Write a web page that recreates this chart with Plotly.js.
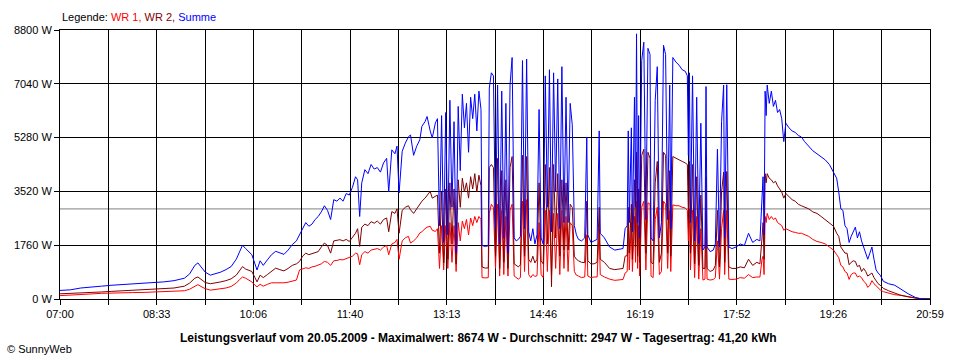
<!DOCTYPE html>
<html>
<head>
<meta charset="utf-8">
<script src="https://cdn.plot.ly/plotly-3.0.1.min.js"></script>
<style>
html,body{margin:0;padding:0;background:#fff;}
#chart{width:960px;height:360px;}
</style>
</head>
<body>
<div id="chart"></div>
<script>
// ---- data ----
const times = [
"07:00","07:10","07:20","07:30","07:40","07:50","08:00","08:10","08:20","08:30",
"08:40","08:50","09:00","09:05","09:10","09:13","09:17","09:20","09:25","09:30",
"09:35","09:40","09:45","09:50","09:53","09:56","09:59","10:02","10:05","10:08",
"10:10","10:13","10:16",
"10:20","10:24","10:28","10:32","10:36","10:40","10:44","10:48","10:51","10:54",
"10:57","11:00","11:03","11:06","11:09","11:12","11:15","11:18","11:21","11:24",
"11:27","11:30","11:33","11:36","11:39","11:42","11:45","11:47","11:49","11:51",
"11:54","11:57","12:00","12:03","12:06","12:09","12:12","12:15","12:17","12:20",
"12:23","12:25","12:27","12:30","12:33","12:36","12:38","12:41","12:44","12:47",
"12:49","12:52","12:54","12:57","12:59","13:02",
"13:04","13:06","13:08","13:10","13:12","13:14","13:16","13:18","13:20","13:22",
"13:24","13:26","13:28","13:30","13:32","13:34","13:36","13:38","13:40","13:42",
"13:44","13:46","13:47","13:50","13:53","13:54","13:56","13:58","14:00","14:02",
"14:04","14:06","14:08","14:10","14:12","14:14","14:16","14:18","14:20","14:22",
"14:24","14:26","14:28","14:30","14:32","14:34","14:36","14:38","14:40","14:42",
"14:44","14:46","14:48","14:50","14:52","14:54","14:56","14:58","15:00","15:02",
"15:04","15:06","15:08","15:10","15:12","15:14","15:16","15:18","15:20","15:23",
"15:26","15:28","15:29","15:32","15:35","15:38","15:40","15:41","15:45","15:50",
"15:55","16:00","16:03","16:05","16:07","16:08","16:09","16:11","16:12","16:14",
"16:15","16:16","16:17","16:18","16:19","16:21","16:23","16:25","16:27","16:29",
"16:30","16:32","16:34","16:36","16:38","16:40","16:42","16:44","16:46","16:48",
"16:49","16:51","16:54","16:57","17:00","17:03","17:05","17:06","17:07","17:08",
"17:10","17:12","17:14","17:16","17:18","17:20","17:22","17:23","17:24","17:27",
"17:30","17:32","17:34","17:36","17:38","17:40","17:41","17:43","17:45","17:48",
"17:52","17:56","18:00","18:04","18:08","18:12","18:15","18:17","18:18","18:19",
"18:20","18:21","18:22","18:24","18:26","18:28","18:30","18:32","18:34","18:36",
"18:38","18:40","18:43","18:46","18:49","18:52","18:55","18:58","19:02","19:06",
"19:10","19:14","19:18","19:22","19:26","19:29","19:31","19:33","19:35","19:37",
"19:39","19:41","19:43","19:45","19:47","19:49","19:51","19:53","19:55","19:57",
"19:59","20:01","20:03","20:05","20:07","20:09","20:11","20:14","20:19","20:25",
"20:31","20:38","20:45","20:50","20:59"
];

const summe = [
280,300,360,380,420,450,470,490,510,530,
560,600,680,820,1100,1180,1000,880,780,820,
880,960,1060,1300,1550,1760,1650,1560,1450,1150,
950,1250,1100,
1280,1450,1560,1500,1460,1600,1780,1900,2100,2350,
2500,2380,2450,2600,2700,2850,3050,2900,2600,3250,
3200,3300,3200,3450,3400,3650,4000,3900,2700,3800,
4230,4100,4400,4250,4300,4150,4450,4600,3500,4880,
4750,5000,3470,4830,5100,5300,5370,4700,5000,5210,
5650,5800,5970,5500,5270,5760,
5900,2400,6000,1850,6100,2100,6500,3000,5800,1500,
6300,4200,6700,5600,6400,4800,6600,5900,6700,5500,
6800,6200,1750,1720,1740,6900,7400,7300,2300,7000,
1800,6800,2000,6400,1500,7000,7900,2000,1900,1950,
2050,7800,2300,7850,2200,1900,2300,1800,2100,6200,
2000,1800,7300,3000,7500,2200,7400,3500,7200,2300,
7600,2500,6600,2500,6400,5700,2400,2100,1950,1900,
2000,5300,2100,1850,1900,1950,5500,2150,2000,1700,
1600,1620,1650,2300,2400,5500,2500,5600,2200,6600,
3000,8674,2500,6000,2000,7800,8400,2600,8200,8000,
2000,1900,6500,7600,2000,2500,8300,8000,2600,7000,
2300,7900,7750,7650,7500,7450,7300,4700,7400,2500,
7300,1900,6600,1800,5750,1600,1700,6950,1700,1550,
1600,1800,4900,1700,5800,7000,2000,7010,1700,1650,
1700,1800,1750,2150,1850,1950,1900,3300,4000,2100,
6800,6000,7000,6400,6800,6300,6500,6100,6200,5900,
5150,5750,5600,5500,5450,5350,5300,5150,5000,4850,
4750,4650,4550,4400,4150,3950,3500,2950,2900,2400,
2300,1850,2050,2200,2350,2000,2200,1900,1720,1500,
1300,1500,1700,1300,950,850,780,580,500,450,
320,170,50,10,0
];

const wr2 = [
170,180,200,215,230,250,265,280,300,310,
330,360,420,520,680,720,620,540,500,520,
560,600,660,780,920,1060,980,940,900,700,
560,780,700,
800,900,1010,960,920,1000,1100,1150,1230,1400,
1500,1450,1480,1520,1550,1700,1830,1750,1500,1900,
1920,1940,1900,1950,1880,2000,2150,2300,1720,2350,
2450,2400,2530,2480,2550,2450,2600,2650,2200,2860,
2800,2950,2150,2900,3000,3050,2920,2800,2950,3140,
3200,3300,3400,3520,3300,3360,
3400,1500,3500,1180,3600,1300,3800,1800,3600,1150,
3900,3000,3950,3500,3800,3300,4000,3600,4100,3500,
4050,3700,1050,1010,1020,4300,4400,4300,1400,4600,
1000,4200,1200,3900,1000,4300,4660,1150,1100,1050,
1120,4700,1400,4660,1300,1200,1400,1180,1300,3800,
1250,1150,4400,1800,4300,400,4400,2000,4100,1400,
3900,1600,3800,1600,3100,3000,1400,1300,1250,1200,
1190,3200,1250,1150,1150,1200,3000,1300,1200,1000,
960,980,1000,1400,1420,3000,1500,3100,1300,3900,
1700,4800,1400,3600,1200,4700,4900,1500,4800,4600,
1200,1150,3800,4500,1200,1500,4800,4700,1500,4200,
1400,4660,4600,4550,4500,4450,4400,2800,4500,1500,
4400,1150,4000,1100,3400,1000,1000,4000,1000,900,
950,1100,2900,1050,3500,4150,1200,4170,1050,1000,
1000,1050,1020,1300,1100,1200,1150,2000,2500,1300,
4100,3800,4100,3950,3900,3800,3850,3700,3600,3500,
3300,3450,3350,3250,3200,3100,3050,3000,2950,2850,
2800,2700,2600,2480,2380,2150,2050,1700,1600,1500,
1500,1120,1200,1250,1230,1060,1100,900,1000,900,
750,800,850,700,580,500,450,350,270,200,
120,70,30,5,0
];

const wr1 = [
110,120,150,165,185,200,205,210,215,225,
240,250,270,320,430,470,390,340,290,310,
330,360,410,520,630,720,680,630,560,450,
400,480,420,
480,530,530,520,530,550,580,620,950,980,
1020,1000,1050,1070,1100,1150,1230,1200,1100,1250,
1260,1290,1280,1320,1340,1400,1500,1480,1120,1450,
1550,1500,1600,1620,1650,1600,1700,1750,1450,1800,
1850,1950,1300,1900,2000,2050,1830,1900,2000,2160,
2200,2300,2350,2380,2250,2210,
2300,1000,2400,950,2400,1000,2500,1200,2400,900,
2500,1900,2550,2300,2600,2100,2650,2400,2700,2500,
2700,2600,700,690,700,2800,3100,3000,1000,3100,
750,2900,800,2700,750,2900,3100,750,700,650,
700,3200,900,3250,800,700,800,740,760,2500,
800,700,2900,900,2900,750,2800,1000,2800,800,
2900,1000,2700,900,2500,2400,900,780,750,700,
720,2100,750,700,720,720,2300,800,720,650,
610,620,640,850,900,2500,950,2500,900,2700,
1200,3200,1000,2400,750,3000,3200,950,3150,3100,
750,700,2600,3000,800,900,3200,3100,1000,2900,
900,3080,3050,3050,3000,2980,2900,1900,2950,950,
2900,700,2700,650,2300,620,650,2800,650,620,
640,700,1900,650,2300,2900,800,2900,650,640,
650,700,680,800,700,720,720,1300,1400,800,
2700,2500,2800,2600,2700,2600,2650,2500,2450,2400,
2250,2300,2250,2200,2180,2150,2150,2100,2050,1950,
1880,1850,1800,1700,1600,1450,1350,1100,1050,900,
850,640,800,850,850,720,750,700,580,520,
380,450,600,500,430,350,300,240,190,140,
120,70,20,5,0
];

const seriesNames = ["WR 1", "WR 2", "Summe"];
const avgPower = 2947;               // Durchschnitt
const yTicks = [0, 1760, 3520, 5280, 7040, 8800];
const yUnit = " W";
const xTickLabels = ["07:00","08:33","10:06","11:40","13:13","14:46","16:19","17:52","19:26","20:59"];
const titleText = "Leistungsverlauf vom 20.05.2009 - Maximalwert: 8674 W - Durchschnitt: 2947 W - Tagesertrag: 41,20 kWh";

// ---- build ----
function toMin(t){ const p = t.split(":"); return (+p[0])*60 + (+p[1]); }
const x = times.map(toMin);
const tStart = toMin(xTickLabels[0]), tEnd = toMin(xTickLabels[xTickLabels.length-1]);
const gridVals = [], gridText = [];
for (let k = 0; k <= 18; k++) {
  gridVals.push(tStart + k*(tEnd - tStart)/18);
  gridText.push(k % 2 === 0 ? xTickLabels[k/2] : "");
}
const yText = yTicks.map(v => v + yUnit);

const font = "Arial, 'Liberation Sans', sans-serif";
const traces = [
  {x: x, y: wr1, name: seriesNames[0], type: "scatter", mode: "lines", line: {color: "#ff0000", width: 1}},
  {x: x, y: wr2, name: seriesNames[1], type: "scatter", mode: "lines", line: {color: "#800000", width: 1}},
  {x: x, y: summe, name: seriesNames[2], type: "scatter", mode: "lines", line: {color: "#0000ff", width: 1}}
];

const layout = {
  width: 960, height: 360,
  margin: {l: 60, r: 30, t: 30, b: 61, pad: 0},
  paper_bgcolor: "#ffffff", plot_bgcolor: "#ffffff",
  showlegend: false,
  font: {family: font, size: 11, color: "#000"},
  xaxis: {
    type: "linear", range: [tStart, tEnd],
    tickmode: "array", tickvals: gridVals, ticktext: gridText,
    ticks: "outside", ticklen: 5, tickcolor: "#000", tickwidth: 1,
    showgrid: true, gridcolor: "#000", gridwidth: 1,
    showline: true, linecolor: "#000", linewidth: 1, mirror: true,
    zeroline: false, fixedrange: true,
    tickfont: {family: font, size: 11, color: "#000"}
  },
  yaxis: {
    range: [0, 8800],
    tickmode: "array", tickvals: yTicks, ticktext: yText,
    ticks: "outside", ticklen: 5, tickcolor: "#000", tickwidth: 1,
    showgrid: true, gridcolor: "#000", gridwidth: 1,
    showline: true, linecolor: "#000", linewidth: 1, mirror: true,
    zeroline: false, fixedrange: true,
    tickfont: {family: font, size: 11, color: "#000"}
  },
  shapes: [
    {type: "line", xref: "paper", yref: "y", x0: 0, x1: 1, y0: avgPower, y1: avgPower,
     line: {color: "#808080", width: 1}, layer: "below"}
  ],
  annotations: [
    {xref: "paper", yref: "paper", x: 0, y: 1.049, xanchor: "left", yanchor: "middle", showarrow: false,
     font: {family: font, size: 11, color: "#000"},
     text: "Legende: <span style='color:#ff0000'>WR 1,</span> <span style='color:#800000'>WR 2,</span> <span style='color:#0000ff'>Summe</span>"},
    {xref: "paper", yref: "paper", x: 0.4816, y: -0.144, xanchor: "center", yanchor: "middle", showarrow: false,
     font: {family: font, size: 12, color: "#000"},
     text: "<b>" + titleText + "</b>"},
    {xref: "paper", yref: "paper", x: -0.0632, y: -0.185, xanchor: "left", yanchor: "middle", showarrow: false,
     font: {family: font, size: 11, color: "#000"},
     text: "© SunnyWeb"}
  ]
};

Plotly.newPlot("chart", traces, layout, {staticPlot: true, displayModeBar: false});
</script>
</body>
</html>
